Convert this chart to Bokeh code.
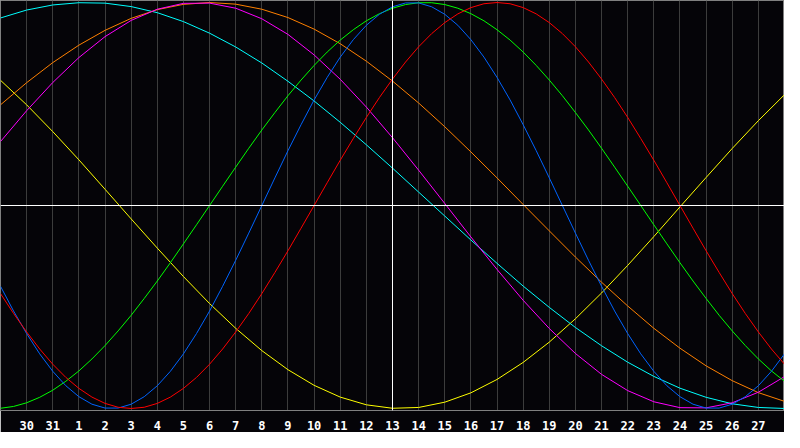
from bokeh.plotting import figure
from bokeh.models import FixedTicker, Span
from bokeh.embed import file_html
from bokeh.resources import INLINE

# day positions across the chart (0 = left edge, 30 = right edge)
days = list(range(31))
half_days = [i / 2 for i in range(61)]
tick_pos = list(range(1, 30))
tick_labels = ["30", "31"] + [str(d) for d in range(1, 28)]

# fast cycles, read every half day
physical = [-0.398, -0.520, -0.631, -0.731, -0.817, -0.888, -0.942, -0.979, -0.998, -0.998,
            -0.979, -0.942, -0.888, -0.817, -0.731, -0.631, -0.520, -0.398, -0.270, -0.136,
            0.0, 0.136, 0.270, 0.398, 0.520, 0.631, 0.731, 0.817, 0.888, 0.942,
            0.979, 0.998, 0.998, 0.979, 0.942, 0.888, 0.817, 0.731, 0.631, 0.520,
            0.398, 0.270, 0.136, 0.0, -0.136, -0.270, -0.398, -0.520, -0.631, -0.731,
            -0.817, -0.888, -0.942, -0.979, -0.998, -0.998, -0.979, -0.942, -0.888, -0.817, -0.731]
emotional = [-0.434, -0.532, -0.623, -0.707, -0.782, -0.847, -0.901, -0.944, -0.975, -0.994,
             -1.0, -0.994, -0.975, -0.944, -0.901, -0.847, -0.782, -0.707, -0.623, -0.532,
             -0.434, -0.330, -0.223, -0.112, 0.0, 0.112, 0.223, 0.330, 0.434, 0.532,
             0.623, 0.707, 0.782, 0.847, 0.901, 0.944, 0.975, 0.994, 1.0, 0.994,
             0.975, 0.944, 0.901, 0.847, 0.782, 0.707, 0.623, 0.532, 0.434, 0.330,
             0.223, 0.112, 0.0, -0.112, -0.223, -0.330, -0.434, -0.532, -0.623, -0.707, -0.782]
intellectual = [-0.999, -0.990, -0.972, -0.945, -0.910, -0.866, -0.815, -0.756, -0.690, -0.618,
                -0.541, -0.458, -0.372, -0.282, -0.189, -0.095, 0.0, 0.095, 0.189, 0.282,
                0.372, 0.458, 0.541, 0.618, 0.690, 0.756, 0.815, 0.866, 0.910, 0.945,
                0.972, 0.990, 0.999, 0.999, 0.990, 0.972, 0.945, 0.910, 0.866, 0.815,
                0.756, 0.690, 0.618, 0.541, 0.458, 0.372, 0.282, 0.189, 0.095, 0.0,
                -0.095, -0.189, -0.282, -0.372, -0.458, -0.541, -0.618, -0.690, -0.756, -0.815, -0.866]

# slow cycles, read every day
intuitive = [0.315, 0.467, 0.606, 0.729, 0.832, 0.912, 0.967, 0.996, 0.997, 0.972,
             0.920, 0.843, 0.742, 0.622, 0.485, 0.334, 0.174, 0.010, -0.155, -0.315,
             -0.467, -0.606, -0.729, -0.832, -0.912, -0.967, -0.996, -0.997, -0.972, -0.920, -0.843]
aesthetic = [0.617, 0.496, 0.364, 0.225, 0.080, -0.066, -0.210, -0.350, -0.483, -0.605,
             -0.715, -0.809, -0.886, -0.944, -0.982, -0.999, -0.995, -0.969, -0.923, -0.857,
             -0.773, -0.673, -0.558, -0.431, -0.295, -0.153, -0.007, 0.138, 0.281, 0.418, 0.546]
awareness = [0.496, 0.605, 0.704, 0.790, 0.863, 0.922, 0.965, 0.991, 1.0, 0.992,
             0.967, 0.926, 0.869, 0.797, 0.711, 0.613, 0.505, 0.388, 0.264, 0.136,
             0.005, -0.125, -0.254, -0.378, -0.495, -0.605, -0.703, -0.790, -0.863, -0.922, -0.965]
spiritual = [0.924, 0.963, 0.988, 0.999, 0.997, 0.980, 0.950, 0.906, 0.849, 0.781,
             0.702, 0.612, 0.515, 0.410, 0.299, 0.184, 0.066, -0.052, -0.170, -0.285,
             -0.397, -0.502, -0.601, -0.691, -0.772, -0.842, -0.900, -0.945, -0.977, -0.995, -1.0]

series = [
    (days, aesthetic, "#ffff00"),
    (days, spiritual, "#00ffff"),
    (days, awareness, "#ff8000"),
    (days, intuitive, "#ff00ff"),
    (half_days, intellectual, "#00ff00"),
    (half_days, physical, "#0064ff"),
    (half_days, emotional, "#ff0000"),
]

p = figure(width=784, height=432, x_range=(0, 30), y_range=(-1.01, 1.01),
           output_backend="svg", toolbar_location=None, y_axis_location=None,
           min_border=0)

p.background_fill_color = "#050408"
p.border_fill_color = "#050408"
p.outline_line_color = "#808080"

p.xaxis.ticker = FixedTicker(ticks=tick_pos)
p.xaxis.major_label_overrides = {t: l for t, l in zip(tick_pos, tick_labels)}
p.xaxis.axis_line_color = "#808080"
p.xaxis.major_tick_line_color = None
p.xaxis.minor_tick_line_color = None
p.xaxis.major_label_standoff = 4
p.xaxis.major_label_text_color = "white"
p.xaxis.major_label_text_font = "DejaVu Sans Mono"
p.xaxis.major_label_text_font_style = "bold"
p.xaxis.major_label_text_font_size = "12px"

p.xgrid.grid_line_color = "#3c3c3c"
p.ygrid.grid_line_color = None

# today marker and zero line
p.add_layout(Span(location=15, dimension="height", line_color="white", line_width=1))
p.add_layout(Span(location=0, dimension="width", line_color="white", line_width=1))

for xs, vals, col in series:
    p.line(xs, vals, line_color=col, line_width=1)

html = file_html(p, INLINE)
html = html.replace("<body>", '<body style="background-color:#050408;">', 1)
open("out.html", "w").write(html)
